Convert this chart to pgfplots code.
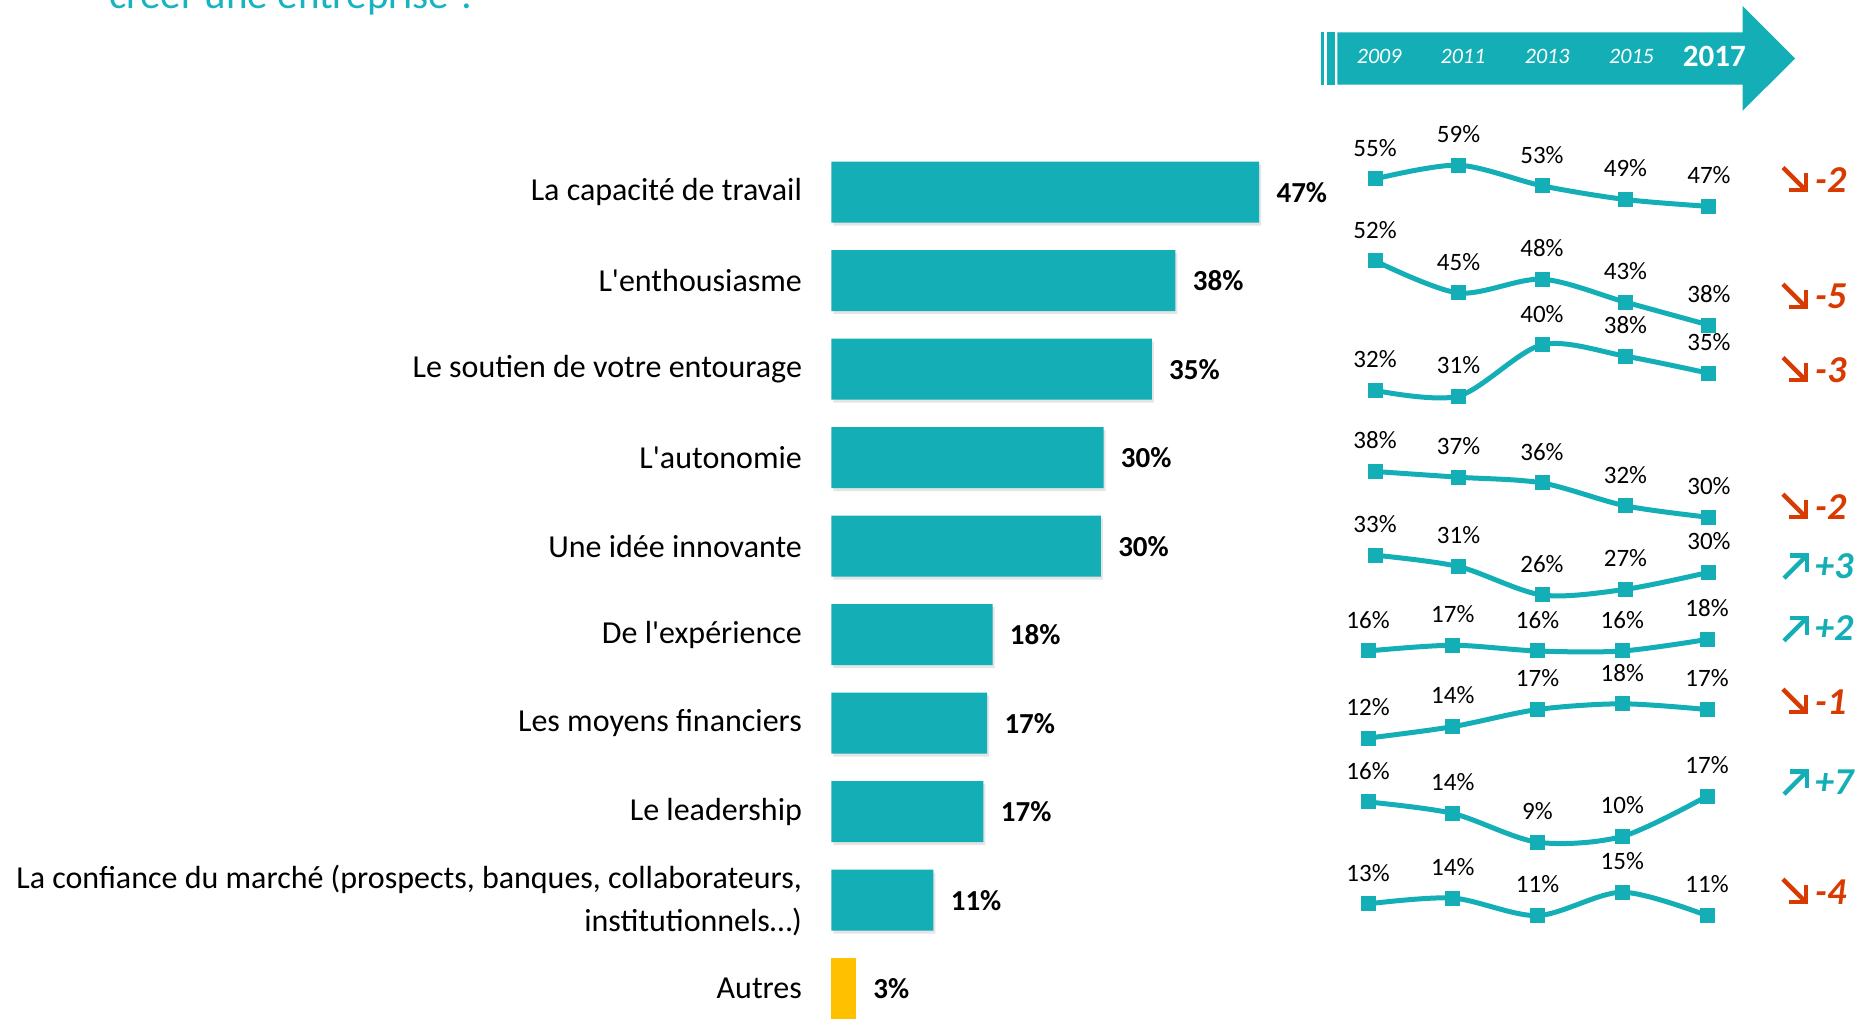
\documentclass[border=0pt]{standalone}
\usepackage{fontspec}
\setmainfont{Carlito}
\usepackage{pgfplots}
\pgfplotsset{compat=1.18}
\usetikzlibrary{arrows.meta}

\definecolor{sarcelle}{HTML}{14AFB6}
\definecolor{jaune}{HTML}{FFC000}
\definecolor{rouge}{HTML}{D83B01}
\definecolor{titre}{HTML}{17B3BE}

\pgfkeys{/pgf/number format/assume math mode=true}

\pgfplotsset{
  mini/.style={
    anchor=south west, scale only axis, hide axis, clip=false,
    xmin=2009, xmax=2017,
  },
  ligne/.style={
    sarcelle, line width=2.5pt, smooth, tension=0.5,
    mark=square*, mark size=2.5pt, mark options={draw=none, fill=sarcelle},
    nodes near coords={\pgfmathprintnumber{\pgfplotspointmeta}\%},
    nodes near coords style={text=black, font=\fontsize{12.5}{14}\selectfont,
      anchor=south, inner sep=0pt, yshift=10pt},
  },
}

% fleches de tendance (coordonnees en pixels, y vers le bas)
\newcommand\baisse[2]{%
  \draw[rouge, line width=2.2pt, -{Straight Barb[length=6pt,width=12pt]}]
    (1783,#1-12.5) -- (1808,#1+12.5);
  \node[anchor=west, inner sep=0pt, text=rouge,
    font=\bfseries\itshape\fontsize{19}{22}\selectfont] at (1815,#1) {#2};}
\newcommand\hausse[2]{%
  \draw[sarcelle, line width=2.2pt, -{Straight Barb[length=6pt,width=12pt]}]
    (1784,#1+12.5) -- (1809,#1-12.5);
  \node[anchor=west, inner sep=0pt, text=sarcelle,
    font=\bfseries\itshape\fontsize{19}{22}\selectfont] at (1815,#1) {#2};}

\begin{document}
\begin{tikzpicture}
\path[use as bounding box] (0,0) rectangle (935pt,-510pt);
\clip (0,0) rectangle (935pt,-510pt);

% --- bandeau, titre, tendances
\begin{scope}[x=0.5pt, y=-0.5pt]
  \node[anchor=base west, inner sep=0pt, text=titre,
    font=\fontsize{20.5}{24}\selectfont] at (109,9) {créer une entreprise ?};
  \fill[sarcelle] (1320.7,32.3) rectangle (1323.6,84.7);
  \fill[sarcelle] (1327.3,32.3) rectangle (1334.5,84.7);
  \fill[sarcelle] (1337.4,32.3) -- (1742.7,32.3) -- (1742.7,6) -- (1795.1,58.5)
    -- (1742.7,110.7) -- (1742.7,84.7) -- (1337.4,84.7) -- cycle;
  \foreach \x/\a in {1379.2/2009, 1462.9/2011, 1547.2/2013, 1631.5/2015}
    \node[text=white, inner sep=0pt, font=\itshape\fontsize{11}{13}\selectfont] at (\x,56.7) {\a};
  \node[text=white, inner sep=0pt, font=\bfseries\fontsize{15.5}{18}\selectfont] at (1714.4,56.7) {2017};

  \baisse{180}{-2}
  \baisse{296.7}{-5}
  \baisse{370}{-3}
  \baisse{506.7}{-2}
  \hausse{565.7}{+3}
  \hausse{628.3}{+2}
  \baisse{701.7}{-1}
  \hausse{781.7}{+7}
  \baisse{891.7}{-4}
\end{scope}

% --- barres 2017
\begin{axis}[
  at={(415.75pt,-516.475pt)}, anchor=south west,
  scale only axis, width=227.5pt, height=442.5pt,
  xbar, bar width=30.5pt, bar shift=0pt,
  xmin=0, xmax=50, ymin=-0.5, ymax=9.5, y dir=reverse,
  axis line style={draw=none}, xtick=\empty,
  ytick={0,1,2,3,4,5,6,7,8,9}, major tick length=0pt,
  yticklabels={La capacité de travail, L\textquotesingle enthousiasme,
    Le soutien de votre entourage, L\textquotesingle autonomie,
    Une idée innovante, De l\textquotesingle expérience, Les moyens financiers,
    Le leadership,
    {La confiance du marché (prospects, banques, collaborateurs,\\institutionnels\ldots)},
    Autres},
  yticklabel style={font=\fontsize{16}{21.5}\selectfont, align=right,
    inner sep=0pt, xshift=-14.6pt, text=black},
  clip=false, point meta=x,
  nodes near coords style={font=\bfseries\fontsize{14.5}{16}\selectfont,
    text=black, anchor=west, inner sep=0pt, xshift=8.5pt},
]
\addplot[draw=none, fill=black!10, bar shift=0pt, xshift=1pt, yshift=-1.5pt]
  coordinates {(47.0,0) (37.8,1) (35.2,2) (29.9,3) (29.6,4) (17.7,5) (17.1,6) (16.7,7) (11.2,8)};
\addplot[draw=none, fill=sarcelle, bar shift=0pt,
  nodes near coords={\pgfmathprintnumber[fixed,precision=0]{\pgfplotspointmeta}\%}]
  coordinates {(47.0,0) (37.8,1) (35.2,2) (29.9,3) (29.6,4) (17.7,5) (17.1,6) (16.7,7) (11.2,8)};
\addplot[draw=none, fill=jaune, bar shift=0pt,
  nodes near coords={\pgfmathprintnumber[fixed,precision=0]{\pgfplotspointmeta}\%}]
  coordinates {(2.7,9)};
\end{axis}

% --- evolutions 2009-2017
\begin{axis}[mini, at={(687.5pt,-103.2pt)}, width=167pt, height=20.6pt, ymin=47, ymax=59]
\addplot[ligne] coordinates {(2009,55) (2011,59) (2013,53) (2015,49) (2017,47)};
\end{axis}
\begin{axis}[mini, at={(687.5pt,-162.55pt)}, width=167pt, height=32.13pt, ymin=38, ymax=52]
\addplot[ligne] coordinates {(2009,52) (2011,45) (2013,48) (2015,43) (2017,38)};
\end{axis}
\begin{axis}[mini, at={(687.5pt,-198.05pt)}, width=167pt, height=25.65pt, ymin=31, ymax=40]
\addplot[ligne] coordinates {(2009,32) (2011,31) (2013,40) (2015,38) (2017,35)};
\end{axis}
\begin{axis}[mini, at={(687.5pt,-258.65pt)}, width=167pt, height=22.9pt, ymin=30, ymax=38]
\addplot[ligne] coordinates {(2009,38) (2011,37) (2013,36) (2015,32) (2017,30)};
\end{axis}
\begin{axis}[mini, at={(687.5pt,-297.5pt)}, width=167pt, height=19.9pt, ymin=26, ymax=33]
\addplot[ligne] coordinates {(2009,33) (2011,31) (2013,26) (2015,27) (2017,30)};
\end{axis}
\begin{axis}[mini, at={(684pt,-325.5pt)}, width=169.5pt, height=5.75pt, ymin=16, ymax=18]
\addplot[ligne] coordinates {(2009,16) (2011,17) (2013,16) (2015,16) (2017,18)};
\end{axis}
\begin{axis}[mini, at={(684pt,-369.05pt)}, width=169.5pt, height=17.15pt, ymin=12, ymax=18]
\addplot[ligne] coordinates {(2009,12) (2011,14) (2013,17) (2015,18) (2017,17)};
\end{axis}
\begin{axis}[mini, at={(684pt,-421.1pt)}, width=169.5pt, height=23pt, ymin=9, ymax=17]
\addplot[ligne] coordinates {(2009,16) (2011,14) (2013,9) (2015,10) (2017,17)};
\end{axis}
\begin{axis}[mini, at={(684pt,-457.8pt)}, width=169.5pt, height=11.7pt, ymin=11, ymax=15]
\addplot[ligne] coordinates {(2009,13) (2011,14) (2013,11) (2015,15) (2017,11)};
\end{axis}
\end{tikzpicture}
\end{document}
